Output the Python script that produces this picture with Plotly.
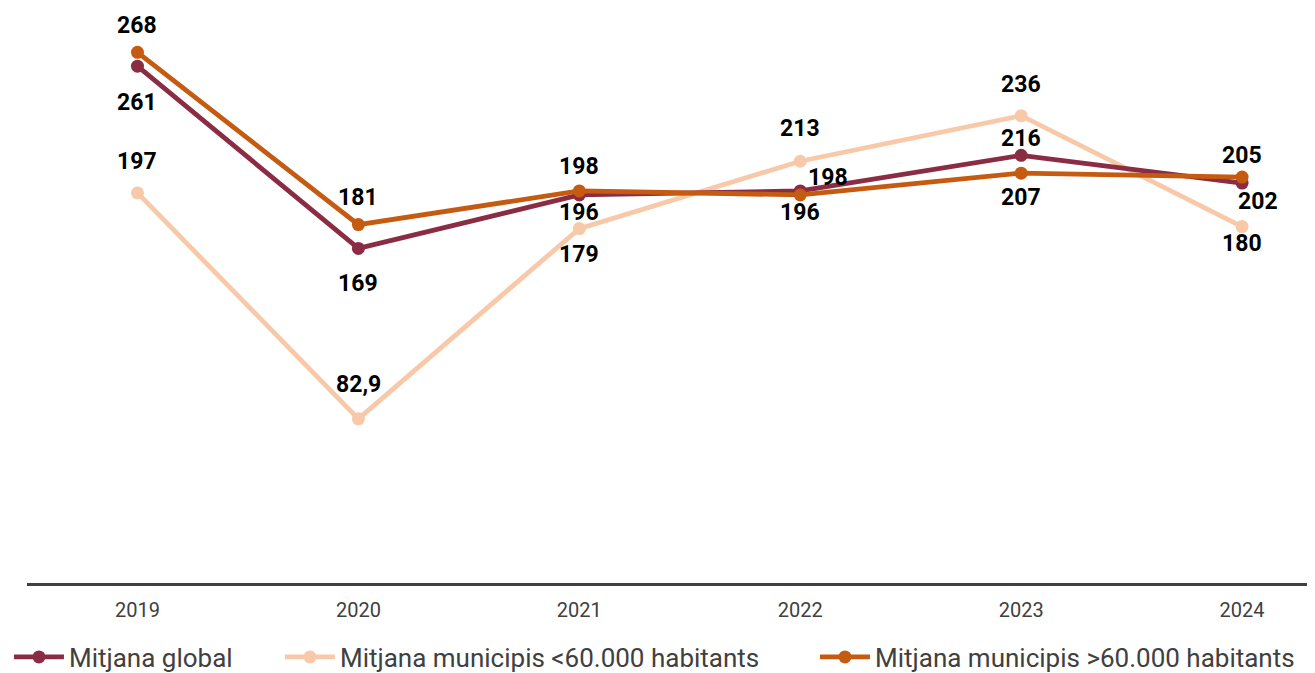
import plotly.graph_objects as go

# Data
years = ["2019", "2020", "2021", "2022", "2023", "2024"]
global_avg = [261, 169, 196, 198, 216, 202]
small_mun = [197, 82.9, 179, 213, 236, 180]
large_mun = [268, 181, 198, 196, 207, 205]

COLORS = {
    "global": "#8B2C45",
    "small": "#F8C9A8",
    "large": "#C55A11",
    "axis": "#404040",
}

LABEL_FONT = dict(family="Roboto, Arial, sans-serif", size=23, color="#000000", weight="bold")
TEXT_FONT = "Roboto, Arial, sans-serif"

# label offsets (px) relative to each point: (xshift, yshift), positive y = up
SHIFTS = {
    "global": [(0, -36), (0, -35), (0, -18), (28, 13), (0, 17), (16, -18)],
    "small": [(0, 31), (0, 34), (0, -26), (0, 33), (0, 31), (0, -17)],
    "large": [(0, 27), (0, 27), (0, 24), (0, -18), (0, -24), (0, 22)],
}


def fmt(v):
    return f"{v:g}".replace(".", ",")


# drawing order: light first, dark orange on top
series = [
    ("small", "Mitjana municipis <60.000 habitants", small_mun, "legend2"),
    ("global", "Mitjana global", global_avg, "legend"),
    ("large", "Mitjana municipis >60.000 habitants", large_mun, "legend3"),
]

fig = go.Figure()
for key, name, vals, leg in series:
    fig.add_trace(go.Scatter(
        x=years,
        y=vals,
        name=name,
        mode="lines+markers",
        line=dict(color=COLORS[key], width=4.8),
        marker=dict(color=COLORS[key], size=13),
        cliponaxis=False,
        legend=leg,
    ))

# value labels (category index used as x so "2019" is not read as a number)
for key, name, vals, leg in series:
    for i, (v, (dx, dy)) in enumerate(zip(vals, SHIFTS[key])):
        fig.add_annotation(
            x=i, y=v, text=fmt(v), showarrow=False,
            xshift=dx, yshift=dy, font=LABEL_FONT,
        )

legend_style = dict(
    orientation="h",
    xanchor="left",
    y=-0.1287,
    yanchor="middle",
    font=dict(family=TEXT_FONT, size=26, color=COLORS["axis"]),
    itemwidth=50,
    bgcolor="rgba(0,0,0,0)",
)

fig.update_layout(
    width=1307,
    height=665,
    margin=dict(l=19, r=0, t=0, b=90, autoexpand=False),
    paper_bgcolor="white",
    plot_bgcolor="white",
    showlegend=True,
    legend=dict(x=-0.014, **legend_style),
    legend2=dict(x=0.1964, **legend_style),
    legend3=dict(x=0.6118, **legend_style),
)
fig.update_xaxes(
    type="category",
    range=[-0.5, 5.33],
    showline=True,
    linecolor=COLORS["axis"],
    linewidth=3,
    showgrid=False,
    ticks="outside",
    ticklen=7,
    tickcolor="rgba(0,0,0,0)",
    tickfont=dict(family=TEXT_FONT, size=20, color=COLORS["axis"]),
)
fig.update_yaxes(
    range=[0, 290.4],
    showgrid=False,
    showticklabels=False,
    zeroline=False,
    showline=False,
)

fig.write_html("out.html")
